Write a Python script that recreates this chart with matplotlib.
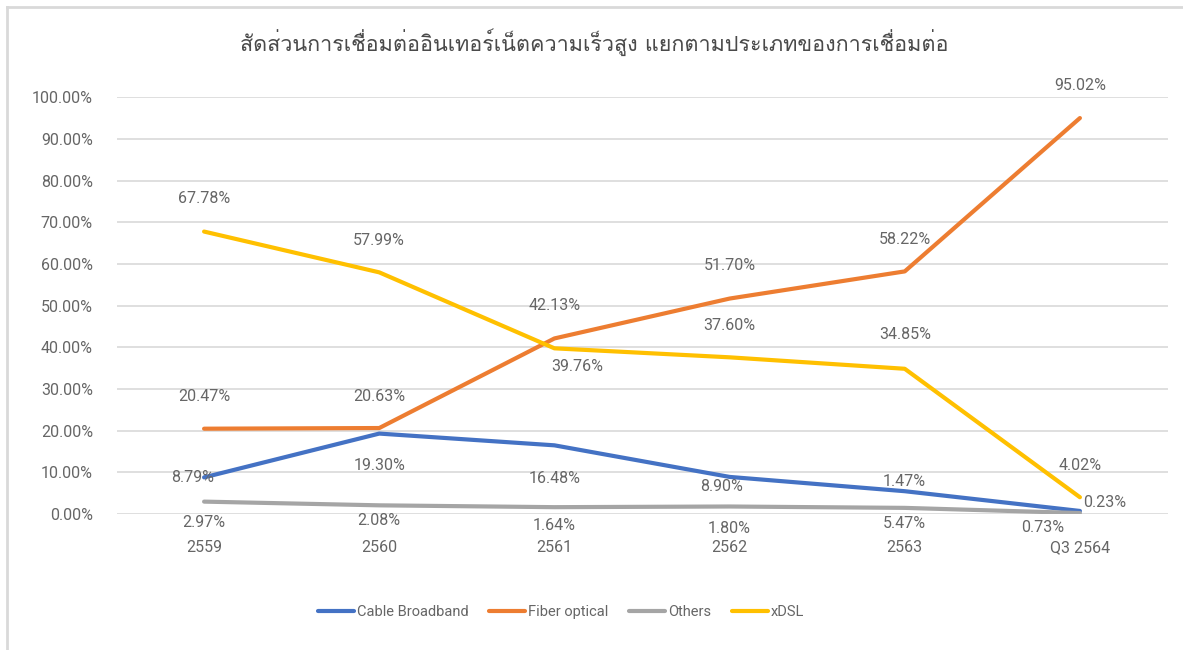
import matplotlib
matplotlib.use("Agg")
import matplotlib.pyplot as plt
from matplotlib import font_manager
from matplotlib.ft2font import FT2Font
from matplotlib.lines import Line2D

# ---------------- data ----------------
categories = ["2559", "2560", "2561", "2562", "2563", "Q3 2564"]
cable = [8.79, 19.30, 16.48, 8.90, 5.47, 0.73]
fiber = [20.47, 20.63, 42.13, 51.70, 58.22, 95.02]
others = [2.97, 2.08, 1.64, 1.80, 1.47, 0.23]
xdsl = [67.78, 57.99, 39.76, 37.60, 34.85, 4.02]
series_names = ["Cable Broadband", "Fiber optical", "Others", "xDSL"]
yticks = [0, 10, 20, 30, 40, 50, 60, 70, 80, 90, 100]
title = "สัดส่วนการเชื่อมต่ออินเทอร์เน็ตความเร็วสูง แยกตามประเภทของการเชื่อมต่อ"

# ---------------- style ----------------
colors = ["#4472C4", "#ED7D31", "#A5A5A5", "#FFC000"]
text_color = "#666666"
title_color = "#4a4a4a"
grid_color = "#D9D9D9"
fs = 11.5

# label offsets in pixels (dx, dy) per series / point
offsets = {
    "Cable Broadband": [(-11, 0), (0, -32), (0, -33), (-8, -10), (0, -32), (-37, -17)],
    "Fiber optical": [(0, 32), (0, 32), (0, 33), (0, 33), (0, 32), (0, 33)],
    "Others": [(0, -21), (0, -15), (0, -18), (0, -22), (0, 26), (25, 11)],
    "xDSL": [(0, 33), (0, 32), (23, -18), (0, 32), (0, 34), (0, 32)],
}


def find_thai_font():
    seen = set()
    for f in font_manager.fontManager.ttflist:
        if f.fname in seen:
            continue
        seen.add(f.fname)
        try:
            cm = FT2Font(f.fname).get_charmap()
        except Exception:
            continue
        if 0x0E2A in cm and 0x0E40 in cm:
            return f.name
    return None


thai_font = find_thai_font()
base_font = "Roboto"
plt.rcParams["font.family"] = [base_font, "DejaVu Sans"]

fig = plt.figure(figsize=(11.83, 6.5), dpi=100)
W, H = 1183, 650

# axes placement (pixel based)
left, right, top, bottom = 116.5, 1167.5, 97.3, 514.0
ax = fig.add_axes([left / W, 1 - bottom / H, (right - left) / W, (bottom - top) / H])

x = list(range(len(categories)))
all_series = [cable, fiber, others, xdsl]
for name, vals, c in zip(series_names, all_series, colors):
    ax.plot(x, vals, color=c, lw=3.0, solid_capstyle="round", solid_joinstyle="round", zorder=3)
    for i, v in enumerate(vals):
        dx, dy = offsets[name][i]
        ax.annotate(f"{v:.2f}%", (i, v), xytext=(dx, dy), textcoords="offset pixels",
                    ha="center", va="center", fontsize=fs, color=text_color, zorder=4)

ax.set_xlim(-0.5, len(categories) - 0.5)
ax.set_ylim(0, 100)
ax.set_yticks(yticks)
ax.set_yticklabels([f"{t:.2f}%" for t in yticks])
ax.set_xticks(x)
ax.set_xticklabels(categories)
ax.tick_params(axis="both", length=0, labelsize=fs, labelcolor=text_color)
ax.tick_params(axis="y", pad=17)
ax.tick_params(axis="x", pad=19)
ax.grid(axis="y", color=grid_color, lw=1.2)
ax.set_axisbelow(True)
for s in ax.spines.values():
    s.set_visible(False)

# title
tfam = [thai_font, "DejaVu Sans"] if thai_font else ["DejaVu Sans"]
fig.text(594 / W, 1 - 42 / H, title, ha="center", va="center", fontsize=15.5,
         color=title_color, family=tfam)

# legend
handles = [Line2D([0], [0], color=c, lw=3.0, solid_capstyle="round") for c in colors]
fig.legend(handles, series_names, loc="center", bbox_to_anchor=(561 / W, 1 - 612 / H),
           ncol=4, frameon=False, fontsize=10.5, labelcolor=text_color,
           handlelength=2.5, handletextpad=0.2, columnspacing=1.4)

# border (top and left visible)
fig.add_artist(Line2D([7 / W, 7 / W], [0, 1 - 7 / H], color=grid_color, lw=2, transform=fig.transFigure))
fig.add_artist(Line2D([7 / W, 1], [1 - 7 / H, 1 - 7 / H], color=grid_color, lw=2, transform=fig.transFigure))

fig.savefig("out.png", dpi=100)
